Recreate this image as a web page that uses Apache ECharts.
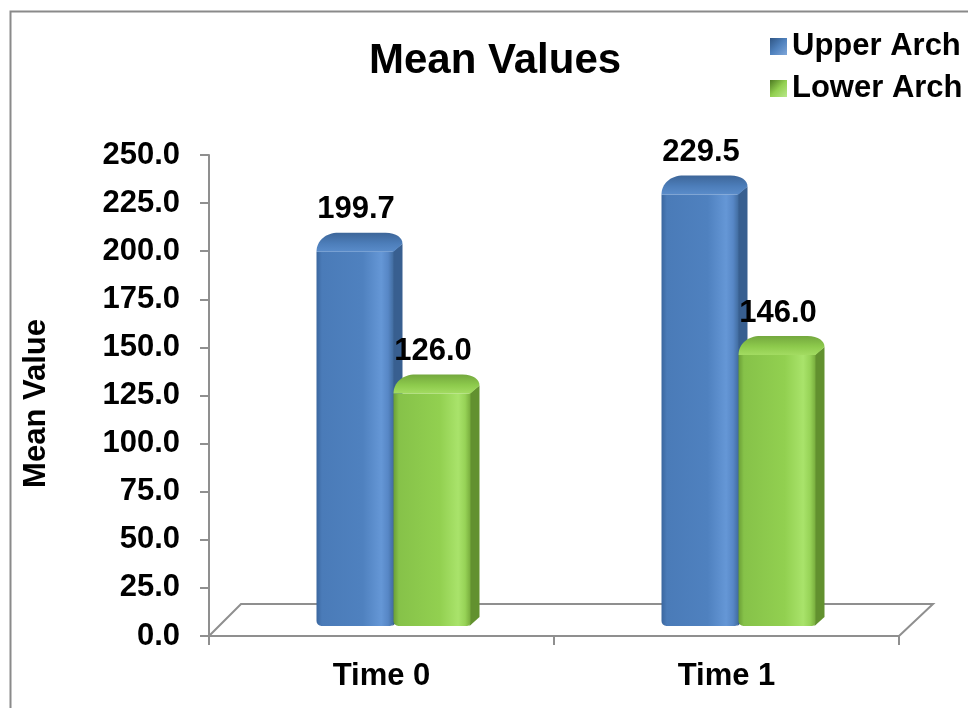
<!DOCTYPE html>
<html>
<head>
<meta charset="utf-8">
<script src="https://cdn.jsdelivr.net/npm/echarts@6/dist/echarts.min.js"></script>
<style>
  html, body { margin: 0; padding: 0; background: #fff; }
  #chart { width: 968px; height: 708px; }
</style>
</head>
<body>
<div id="chart"></div>
<script>
// Chart data
const categories = ['Time 0', 'Time 1'];
const upperArch = [199.7, 229.5];
const lowerArch = [126.0, 146.0];
const seriesNames = ['Upper Arch', 'Lower Arch'];

const FONT = '"Liberation Sans", Arial, sans-serif';
const TXT = 31;

// Shading for each bar colour: front face, top cap, side face
const palettes = [
  {
    front: [[0, '#3b679f'], [0.07, '#4a7bb8'], [0.6, '#4f81bf'], [0.84, '#6597d6'], [0.93, '#5787c6'], [1, '#416c9f']],
    top: [[0, '#3d6699'], [0.55, '#4c7db9'], [1, '#5a8cca']],
    side: '#385f90',
    legend: [[0, '#2f5584'], [0.5, '#4f81bd'], [1, '#7fa7da']]
  },
  {
    front: [[0, '#6b9f37'], [0.07, '#86c249'], [0.6, '#92d050'], [0.84, '#a9e36b'], [0.93, '#97d357'], [1, '#78ad3d']],
    top: [[0, '#74a83e'], [0.55, '#8dca4c'], [1, '#a3dc62']],
    side: '#62912f',
    legend: [[0, '#4d7a22'], [0.5, '#92d050'], [1, '#b9e88a']]
  }
];

function grad(stops, x2, y2) {
  return new echarts.graphic.LinearGradient(0, 0, x2, y2,
    stops.map(s => ({ offset: s[0], color: s[1] })));
}

// Bars sit a third of the way back into the floor
const BAR_LAYOUT = [
  { left: -65, right: 12 },
  { left: 12, right: 89 }
];
const LIFT = 10;      // bar base above the front floor edge
const CAP = 19;       // visible height of the rounded top
const SIDE = 9;       // visible width of the right side face

function barRenderer(sIdx) {
  const pal = palettes[sIdx];
  const lay = BAR_LAYOUT[sIdx];
  return function (params, api) {
    const cat = api.value(0);
    const val = api.value(1);
    const base = api.coord([cat, 0]);
    const topPt = api.coord([cat, val]);
    const x0 = base[0] + lay.left;
    const x1 = base[0] + lay.right;
    const yB = base[1] - LIFT;
    const yT = topPt[1];
    const w = x1 - x0;

    const side = {
      type: 'polygon',
      shape: { points: [[x1 - 1, yT], [x1 + SIDE, yT - 8], [x1 + SIDE, yB - 9], [x1 - 1, yB]] },
      style: { fill: pal.side }
    };
    const front = {
      type: 'rect',
      shape: { x: x0, y: yT, width: w, height: yB - yT, r: [0, 0, 4, 5] },
      style: { fill: grad(pal.front, 1, 0) }
    };
    const topPath =
      'M' + x0 + ',' + yT +
      ' C' + x0 + ',' + (yT - 11) + ' ' + (x0 + 9) + ',' + (yT - CAP) + ' ' + (x0 + 22) + ',' + (yT - CAP) +
      ' L' + (x1 - 8) + ',' + (yT - CAP) +
      ' C' + (x1 + 3) + ',' + (yT - CAP) + ' ' + (x1 + SIDE) + ',' + (yT - 14) + ' ' + (x1 + SIDE) + ',' + (yT - 8) +
      ' L' + x1 + ',' + yT + ' Z';
    const top = {
      type: 'path',
      shape: { pathData: topPath },
      style: { fill: grad(pal.top, 0, 1) }
    };
    const label = {
      type: 'text',
      style: {
        text: val.toFixed(1),
        x: (x0 + x1) / 2 + 1,
        y: yT - 42,
        textAlign: 'center',
        textVerticalAlign: 'middle',
        fill: '#000',
        font: 'bold ' + TXT + 'px ' + FONT
      }
    };
    return { type: 'group', children: [side, front, top, label] };
  };
}

// The floor of the plot area, drawn from the grid's own geometry
function floorRenderer(params, api) {
  const cs = params.coordSys;
  const fx0 = cs.x, fx1 = cs.x + cs.width, fy = cs.y + cs.height;
  const depth = 32;
  return {
    type: 'polyline',
    shape: { points: [[fx0, fy], [fx0 + depth, fy - depth], [fx1 + depth + 2, fy - depth], [fx1, fy]] },
    style: { stroke: '#8f8f8f', lineWidth: 2, fill: null },
    z2: 0
  };
}

const chart = echarts.init(document.getElementById('chart'), null, { renderer: 'canvas' });

chart.setOption({
  backgroundColor: '#fff',
  animation: false,
  graphic: [{
    type: 'rect',
    left: 8, top: 9,
    shape: { width: 1000, height: 1000 },
    style: { fill: null, stroke: '#8a8a8a', lineWidth: 2 },
    silent: true
  }],
  title: {
    text: 'Mean Values',
    left: 364, top: 35,
    textStyle: { fontFamily: FONT, fontWeight: 'bold', fontSize: 42, color: '#000' }
  },
  legend: {
    orient: 'vertical',
    left: 765, top: 26,
    itemWidth: 17, itemHeight: 17, itemGap: 11,
    icon: 'rect',
    textStyle: { fontFamily: FONT, fontWeight: 'bold', fontSize: TXT, color: '#000' },
    data: seriesNames
  },
  grid: { left: 209, right: 69, top: 155, bottom: 72 },
  xAxis: {
    type: 'category',
    data: categories,
    boundaryGap: true,
    axisLine: { lineStyle: { color: '#8f8f8f', width: 2 } },
    axisTick: { show: true, length: 9, lineStyle: { color: '#8f8f8f', width: 2 } },
    axisLabel: { margin: 25, color: '#000', fontFamily: FONT, fontWeight: 'bold', fontSize: TXT },
    splitLine: { show: false }
  },
  yAxis: {
    type: 'value',
    min: 0, max: 250, interval: 25,
    name: 'Mean Value',
    nameLocation: 'middle',
    nameRotate: 90,
    nameGap: 157,
    nameTextStyle: {
      color: '#000', fontFamily: FONT, fontWeight: 'bold', fontSize: TXT,
      padding: [0, 16, 0, 0]
    },
    axisLine: { show: true, lineStyle: { color: '#8f8f8f', width: 2 } },
    axisTick: { show: true, length: 9, lineStyle: { color: '#8f8f8f', width: 2 } },
    axisLabel: {
      margin: 29, color: '#000', fontFamily: FONT, fontWeight: 'bold', fontSize: TXT,
      formatter: v => v.toFixed(1)
    },
    splitLine: { show: false }
  },
  series: [
    {
      type: 'custom',
      name: 'floor',
      renderItem: floorRenderer,
      data: [[0, 0]],
      silent: true,
      z: 1
    },
    {
      type: 'custom',
      name: seriesNames[0],
      renderItem: barRenderer(0),
      itemStyle: { color: grad(palettes[0].legend, 1, 1) },
      data: upperArch.map((v, i) => [i, v]),
      z: 2
    },
    {
      type: 'custom',
      name: seriesNames[1],
      renderItem: barRenderer(1),
      itemStyle: { color: grad(palettes[1].legend, 1, 1) },
      data: lowerArch.map((v, i) => [i, v]),
      z: 3
    }
  ]
});
</script>
</body>
</html>
